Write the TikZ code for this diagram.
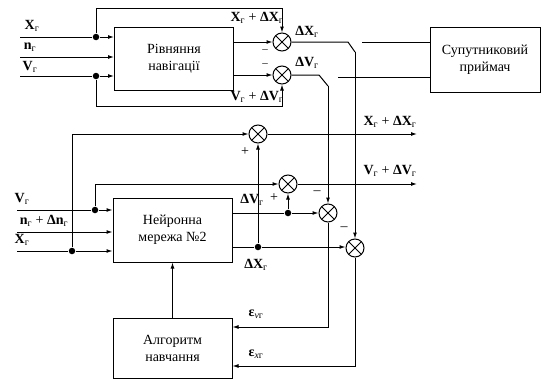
\documentclass[tikz,border=0pt]{standalone}
\usepackage{fontspec}
\setmainfont{Liberation Serif}
\usetikzlibrary{arrows.meta,positioning,calc}
\newcommand{\Xg}{\textbf{X}\textsubscript{г}}
\newcommand{\Vg}{\textbf{V}\textsubscript{г}}
\newcommand{\nG}{\textbf{n}\textsubscript{г}}
\newcommand{\dXg}{\textbf{ΔX}\textsubscript{г}}
\newcommand{\dVg}{\textbf{ΔV}\textsubscript{г}}
\begin{document}
\begin{tikzpicture}[x=1pt,y=-1pt,line width=1pt,
          >={Latex[length=6pt,width=4pt]},
          font=\fontsize{14}{17}\selectfont,
          box/.style={draw,align=center,minimum width=119pt,inner sep=2pt},
          sum/.style={circle,draw,minimum size=18pt,inner sep=0pt,
                      path picture={\draw (path picture bounding box.north west)
                        -- (path picture bounding box.south east)
                        (path picture bounding box.north east)
                        -- (path picture bounding box.south west);}},
          dot/.style={circle,fill,inner sep=0pt,minimum size=6.5pt},
          lbl/.style={inner sep=1pt},
          sgn/.style={inner sep=0pt,font=\fontsize{11}{11}\selectfont}]
        \useasboundingbox (0,0) rectangle (547,380);
        % top part
        \node[box,minimum height=63pt] (nav) at (174,59) {Рівняння\\навігації};
        \node[box,minimum width=110pt,minimum height=65pt] (rec) at (485,59.5)
          {Супутниковий\\приймач};
        \node[sum] (sX) at (282,42) {};
        \node[sum] (sV) at (282,75) {};
        \coordinate (iX) at (20,37);
        \coordinate (in) at (20,57);
        \coordinate (iV) at (20,76);
        \node[dot] (dX1) at (96,37) {};
        \node[dot] (dV1) at (96,76) {};
        \draw (iX) -- (dX1);
        \draw[->] (dX1) -- (nav.west |- iX);
        \draw[->] (in) -- (nav.west |- in);
        \draw (iV) -- (dV1);
        \draw[->] (dV1) -- (nav.west |- iV);
        \draw[->] (dX1) |- (282,8) -- (sX.north);
        \draw[->] (dV1) |- (282,106) -- (sV.south);
        \draw[->] (nav.east |- sX) -- (sX.west);
        \draw[->] (nav.east |- sV) -- (sV.west);
        \node[lbl] at (32,26) {\Xg};
        \node[lbl] at (30,47) {\nG};
        \node[lbl] at (30,67) {\Vg};
        \node[lbl] at (257,18) {\Xg\ + \dXg};
        \node[lbl] at (257,97) {\Vg\ + \dVg};
        \node[sgn] at (265,51) {--};
        \node[sgn] at (265,65) {--};
        \node[lbl] at (307,32) {\dXg};
        \node[lbl] at (307,63) {\dVg};
        % switches
        \coordinate (kX) at (355,52);
        \coordinate (kV) at (328,86);
        \draw (sX.east) -- (348,42) -- (kX);
        \draw (sV.east) -- (319,75) -- (kV);
        \coordinate (cX) at (362,42);
        \coordinate (cV) at (338,77);
        \draw (cX) -- (rec.west |- cX);
        \draw (cV) -- (rec.west |- cV);
        % lower part
        \node[box,minimum height=64pt] (nn) at (172.5,230) {Нейронна\\мережа №2};
        \node[box,minimum height=60pt] (alg) at (172.5,348) {Алгоритм\\навчання};
        \node[sum] (s1) at (258,134) {};
        \node[sum] (s2) at (288,184) {};
        \node[sum] (s3) at (328,213) {};
        \node[sum] (s4) at (355,248) {};
        \coordinate (jV) at (17,210);
        \coordinate (jn) at (17,232);
        \coordinate (jX) at (17,251);
        \node[dot] (dV2) at (95,210) {};
        \node[dot] (dX2) at (72,251) {};
        \draw (jV) -- (dV2);
        \draw[->] (dV2) -- (nn.west |- jV);
        \draw[->] (jn) -- (nn.west |- jn);
        \draw (jX) -- (dX2);
        \draw[->] (dX2) -- (nn.west |- jX);
        \draw[->] (dX2) |- (s1.west);
        \draw[->] (dV2) |- (s2.west);
        \node[dot] (d3) at (288,213) {};
        \node[dot] (d4) at (258,247) {};
        \draw (nn.east |- d3) -- (d3);
        \draw[->] (d3) -- (s3.west);
        \draw[->] (d3) -- (s2.south);
        \draw (nn.east |- d4) -- (d4);
        \draw[->] (d4) -- (s4.west |- d4);
        \draw[->] (d4) -- (s1.south);
        \draw[->] (s1.east) -- (417,134);
        \draw[->] (s2.east) -- (417,184);
        \draw[->] (kV) -- (s3.north);
        \draw[->] (kX) -- (s4.north);
        \draw[->] (s3.south) |- (alg.east |- 0,327);
        \draw[->] (s4.south) |- (alg.east |- 0,366);
        \draw[->] (alg.north) -- (nn.south);
        \node[lbl] at (22,199) {\Vg};
        \node[lbl] at (44,221) {\nG\ + \textbf{Δn}\textsubscript{г}};
        \node[lbl] at (22,240) {\Xg};
        \node[lbl] at (245,152) {+};
        \node[lbl] at (274,198) {+};
        \node[lbl] at (317,193) {--};
        \node[lbl] at (344,229) {--};
        \node[lbl] at (252,200) {\dVg};
        \node[lbl] at (256,265) {\dXg};
        \node[lbl] at (390,122) {\Xg\ + \dXg};
        \node[lbl] at (390,171) {\Vg\ + \dVg};
        \node[lbl] at (256,314) {\textbf{ε}\textsubscript{\textit{v}г}};
        \node[lbl] at (256,354) {\textbf{ε}\textsubscript{\textit{x}г}};
      \end{tikzpicture}
\end{document}
